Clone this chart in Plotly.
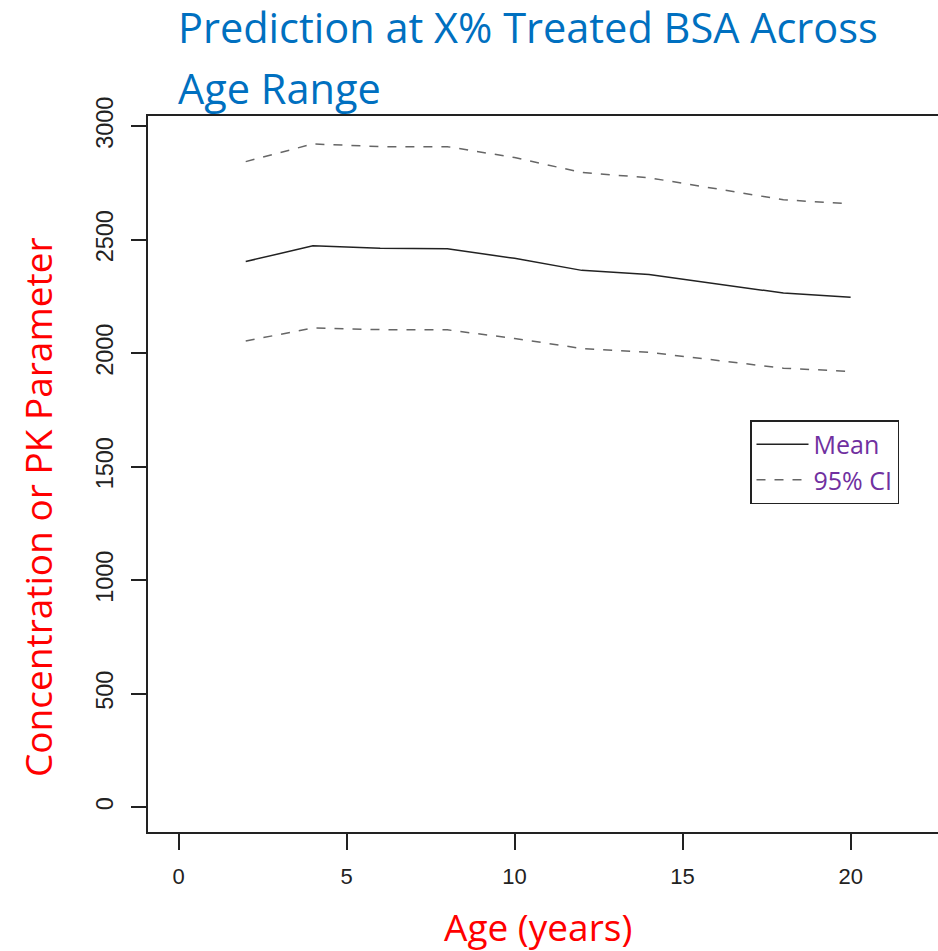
import plotly.graph_objects as go

age = [2, 4, 6, 8, 10, 12, 14, 16, 18, 20]
mean_vals = [2404, 2473, 2462, 2460, 2418, 2365, 2347, 2307, 2265, 2247]
upper_ci = [2844, 2922, 2910, 2910, 2862, 2796, 2773, 2726, 2676, 2658]
lower_ci = [2054, 2111, 2104, 2103, 2065, 2021, 2004, 1969, 1934, 1920]

x_ticks = [0, 5, 10, 15, 20]
y_ticks = [0, 500, 1000, 1500, 2000, 2500, 3000]

W, H = 938, 951
L, T = 148, 116
B = H - 832
PW = W - L
PH = H - T - B

def px(xi):
    return (xi - L) / PW

def py(yi):
    return (H - B - yi) / PH

fig = go.Figure()
fig.add_trace(go.Scatter(x=age, y=mean_vals, mode="lines", name="Mean",
                         line=dict(color="#222222", width=1.5)))
fig.add_trace(go.Scatter(x=age, y=upper_ci, mode="lines", name="95% CI",
                         line=dict(color="#666666", width=1.5, dash="dash")))
fig.add_trace(go.Scatter(x=age, y=lower_ci, mode="lines", name="95% CI lower",
                         showlegend=False,
                         line=dict(color="#666666", width=1.5, dash="dash")))

fig.update_layout(
    width=W, height=H,
    margin=dict(l=L, r=0, t=T, b=B),
    paper_bgcolor="white", plot_bgcolor="white",
    showlegend=True,
    legend=dict(x=px(750), y=py(420), xanchor="left", yanchor="top",
                bordercolor="#222222", borderwidth=1.5, bgcolor="white",
                font=dict(family="Open Sans", size=25, color="#7030A0"),
                tracegroupgap=0, itemwidth=52),
    xaxis=dict(range=[-0.908, 22.6], tickvals=x_ticks, ticks="outside", ticklen=16,
               tickwidth=1.5, tickcolor="#222222", showline=True, linecolor="#222222",
               linewidth=1.5, mirror=True, showgrid=False, zeroline=False,
               ticklabelstandoff=8,
               tickfont=dict(family="Liberation Sans", size=22, color="#222222")),
    yaxis=dict(range=[-109, 3045], tickvals=y_ticks, ticks="outside", ticklen=15,
               tickwidth=1.5, tickcolor="#222222", showline=True, linecolor="#222222",
               linewidth=1.5, mirror=False, showgrid=False, zeroline=False,
               tickangle=-90, ticklabelstandoff=9,
               tickfont=dict(family="Liberation Sans", size=23.5, color="#222222")),
    annotations=[
        dict(text="Prediction at X% Treated BSA Across",
             xref="paper", yref="paper", x=px(176), y=py(27),
             xanchor="left", yanchor="middle", align="left", showarrow=False,
             font=dict(family="Open Sans", size=41.5, color="#0070C0")),
        dict(text="Age Range",
             xref="paper", yref="paper", x=px(176), y=py(88),
             xanchor="left", yanchor="middle", align="left", showarrow=False,
             font=dict(family="Open Sans", size=41.5, color="#0070C0")),
        dict(text="Concentration or PK Parameter", xref="paper", yref="paper",
             x=px(37), y=py(507), textangle=-90, showarrow=False,
             xanchor="center", yanchor="middle",
             font=dict(family="Open Sans", size=37, color="#FF0000")),
        dict(text="Age (years)", xref="paper", yref="paper",
             x=px(538), y=py(926), showarrow=False,
             xanchor="center", yanchor="middle",
             font=dict(family="Open Sans", size=37, color="#FF0000")),
    ],
)

fig.write_html("out.html",
               config={"displayModeBar": False},
               post_script="document.body.style.margin='0';"
                           "document.body.style.overflow='hidden';")
